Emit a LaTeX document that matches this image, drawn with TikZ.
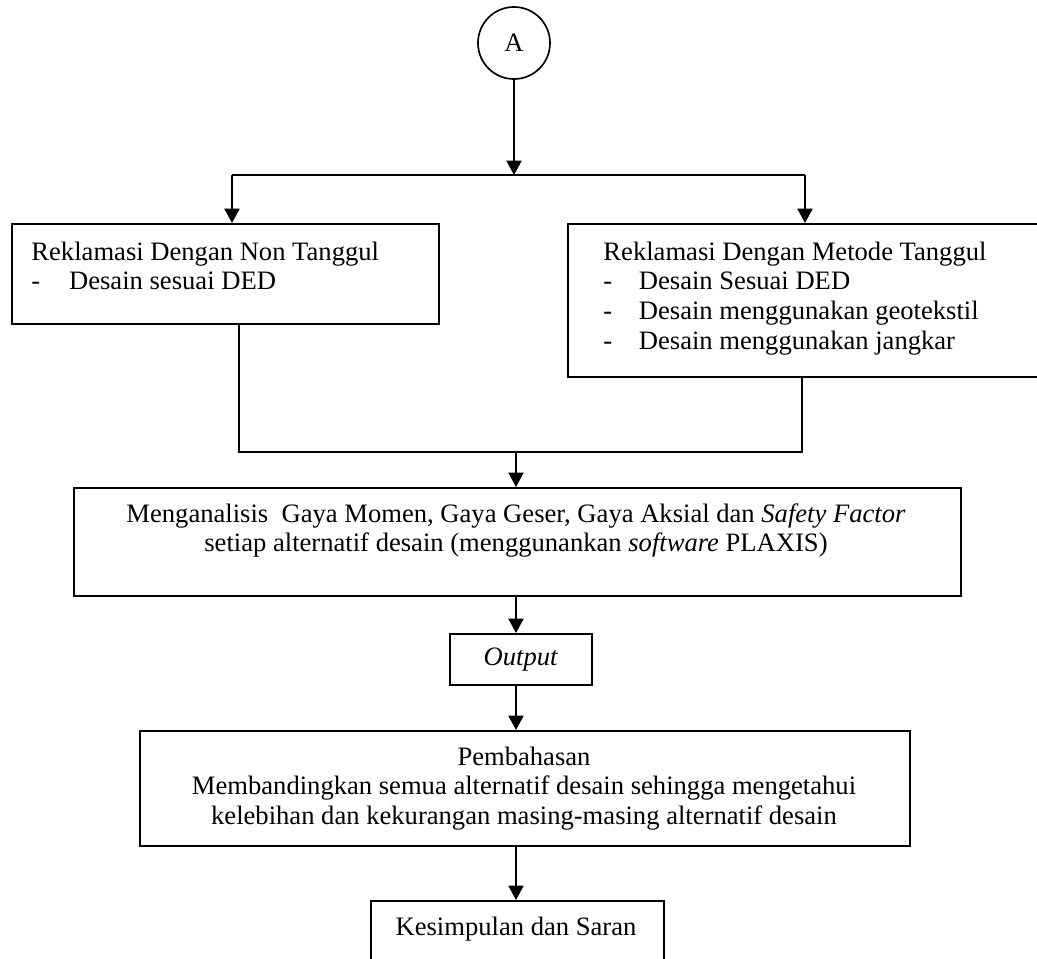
\documentclass[tikz,border=0pt]{standalone}
\usepackage{fontspec}
\setmainfont{Liberation Serif}
\usetikzlibrary{calc, positioning, arrows.meta}
\tikzset{
        kotak/.style={draw, line width=0.75pt, inner sep=0pt, anchor=north west},
        panah/.style={-{Triangle[length=6.5pt,width=6.8pt]}, line width=0.9pt},
        garis/.style={line width=0.75pt},
        teks/.style={inner sep=0pt},
}
\begin{document}
\begin{tikzpicture}[x=0.4511pt, y=0.4511pt, font=\fontsize{12pt}{13.4pt}\selectfont]
        \useasboundingbox (0,0) rectangle (1037,958);
        \clip (0,0) rectangle (1037,958);
        %\draw[help lines, step=100] (0,0) grid (1037,958);

        \node[draw, circle, minimum size=32.5pt, inner sep=0pt, line width=0.75pt] (lingA) at (514,915) {A};
        \coordinate (cabang) at (514,783);
        \coordinate (cabangkiri) at (232,783);
        \coordinate (cabangkanan) at (805,783);

        % kotak-kotak
        \node[kotak, minimum width=192.6pt, minimum height=45.1pt] (nontanggul) at (11,735) {};
        \node[kotak, minimum width=215.6pt, minimum height=69pt] (tanggul) at (567,735) {};
        \node[kotak, minimum width=400.1pt, minimum height=48.7pt] (analisis) at (73,471) {};
        \node[kotak, minimum width=64.1pt, minimum height=23pt] (output) at (449,325) {\textit{Output}};
        \node[kotak, minimum width=347.3pt, minimum height=51.9pt] (bahas) at (139,228) {};
        \node[kotak, minimum width=132.2pt, minimum height=33.8pt] (simpul) at (370,58) {};

        % isi kotak
        \node[teks, anchor=base west] (nontanggultxt) at (31,698) {\begin{tabular}[t]{@{}p{17pt}@{}l@{}}
                \multicolumn{2}{@{}l@{}}{Reklamasi Dengan Non Tanggul}\\
                - & Desain sesuai DED
        \end{tabular}};
        \node[teks, anchor=base west] (tanggultxt) at (603,698) {\begin{tabular}[t]{@{}p{16pt}@{}l@{}}
                \multicolumn{2}{@{}l@{}}{Reklamasi Dengan Metode Tanggul}\\
                - & Desain Sesuai DED\\
                - & Desain menggunakan geotekstil\\
                - & Desain menggunakan jangkar
        \end{tabular}};
        \node[teks, anchor=base] (analisistxt) at (516,436) {\begin{tabular}[t]{@{}c@{}}
                Menganalisis\ \ Gaya Momen, Gaya Geser, Gaya Aksial dan \textit{Safety Factor}\\
                setiap alternatif desain (menggunankan \textit{software} PLAXIS)
        \end{tabular}};
        \node[teks, anchor=base] (bahastxt) at (524,193) {\begin{tabular}[t]{@{}c@{}}
                Pembahasan\\
                Membandingkan semua alternatif desain sehingga mengetahui\\
                kelebihan dan kekurangan masing-masing alternatif desain
        \end{tabular}};
        \node[teks, anchor=base] (simpultxt) at (516,23) {Kesimpulan dan Saran};

        % panah
        \draw[panah] (lingA) -- (cabang);
        \draw[garis] (cabangkiri) -- (cabangkanan);
        \draw[panah] (cabangkiri) -- (cabangkiri |- nontanggul.north);
        \draw[panah] (cabangkanan) -- (cabangkanan |- tanggul.north);

        \coordinate (gabungkiri) at (239,506);
        \coordinate (gabungkanan) at (802,506);
        \coordinate (gabung) at (516,506);
        \draw[garis] (gabungkiri |- nontanggul.south) -- (gabungkiri) -- (gabungkanan) -- (gabungkanan |- tanggul.south);
        \draw[panah] (gabung) -- (gabung |- analisis.north);
        \draw[panah] (gabung |- analisis.south) -- (gabung |- output.north);
        \draw[panah] (gabung |- output.south) -- (gabung |- bahas.north);
        \draw[panah] (gabung |- bahas.south) -- (gabung |- simpul.north);
\end{tikzpicture}
\end{document}
